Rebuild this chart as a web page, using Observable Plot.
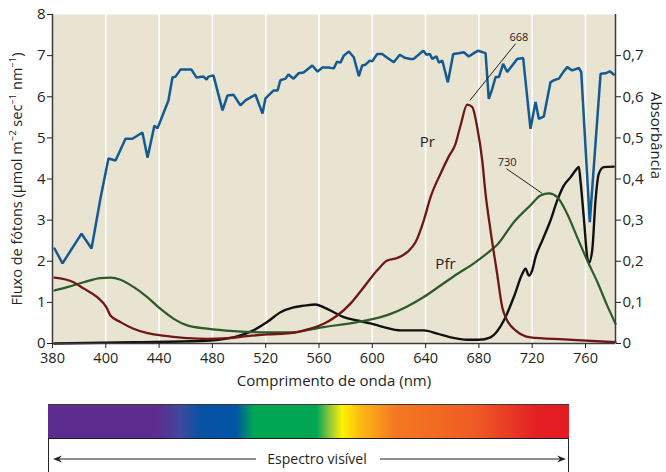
<!DOCTYPE html>
<html><head><meta charset="utf-8">
<script src="https://cdn.jsdelivr.net/npm/d3@7"></script>
<script src="https://cdn.jsdelivr.net/npm/@observablehq/plot@0.6"></script>
<style>
body{margin:0;background:#fff;font-family:"Open Sans",sans-serif;color:#231f20;}
#wrap{position:relative;width:666px;height:472px;overflow:hidden;}
#bar{position:absolute;left:48px;top:404px;width:521px;height:33px;border-top:1px solid #3a3a3a;border-bottom:1.5px solid #1a1a2a;
background:linear-gradient(to right,#5c2d8e 0%,#5c2d8e 21%,#3f4a9e 25.5%,#0a52a3 29%,#0054a6 36%,#00a651 39.5%,#00a651 51.5%,#8dc63f 54%,#fff200 56.5%,#fcb813 60%,#f47920 66.5%,#ef5b25 82%,#e31e24 94%,#e31b23 100%);}
</style></head><body><div id="wrap"><div id="bar"></div></div>
<script>
// Photon flux (left axis, µmol m-2 s-1 nm-1)
const fluxWl = [361.5,367.5,381.8,389.3,396,402,407.3,414.8,420,427.5,431.3,436.5,438.8,447,450,452.3,456,464.3,468,473.3,475.6,477,480.8,487.6,491.3,495.8,501,504.8,512.3,517.6,519.8,525.8,528.9,531,534.9,537,540.9,544.6,548.4,555,558.9,562.6,567,571.1,573.5,576.1,578.6,582.4,586.1,589.9,592.4,594.9,598.1,599.9,603.7,607.4,611.2,616.1,620.6,624.2,628.7,631.1,638.2,640.7,643.2,645,648.2,649.9,652.5,656.7,660.7,664.9,668.7,672.4,676.2,679.5,683.2,685,687.4,690,692.5,695,698.2,701.2,705,708.7,713.2,718.7,722.5,725,728.7,733.7,736.2,740,743.3,746.3,750,755,756.8,763.2,771.3,775,778.2,781.2];
const fluxVal = [2.31,1.95,2.67,2.31,3.53,4.50,4.45,4.98,4.98,5.13,4.52,5.30,5.23,5.91,6.47,6.49,6.66,6.66,6.47,6.49,6.42,6.49,6.52,5.67,6.03,6.05,5.79,5.91,6.05,5.59,5.96,6.15,6.15,6.40,6.44,6.54,6.44,6.57,6.59,6.76,6.61,6.71,6.71,6.69,6.85,6.83,7.00,7.10,6.96,6.50,6.76,6.78,6.88,6.86,7.04,7.04,6.95,6.84,7.02,6.95,6.92,6.92,7.12,7.02,7.04,6.92,6.98,6.83,6.88,6.35,7.04,7.06,7.08,6.98,7.06,7.12,7.08,7.06,5.95,6.19,6.48,6.48,6.80,6.60,6.76,6.92,6.94,5.22,5.87,5.46,5.52,6.35,6.40,6.44,6.60,6.72,6.64,6.70,6.60,2.95,6.56,6.57,6.62,6.54];
// Pr absorbance (right axis)
const prWl = [361.5,375.8,383.3,393.8,400.5,403.5,411,420.8,431.3,446.3,461.3,476.3,491.3,506.3,521.4,538.6,553.6,563.6,573.7,583.6,593.6,603.7,611.2,618.7,626.2,632.4,638.6,643.7,651.2,657.4,662.4,666.2,671.2,675,678.7,682.5,685,688.7,693.7,697.5,701.2,707.5,718.7,743.7,782.5];
const prAbs = [0.160,0.149,0.134,0.112,0.088,0.068,0.052,0.036,0.025,0.018,0.013,0.011,0.013,0.018,0.022,0.025,0.036,0.048,0.068,0.097,0.137,0.178,0.202,0.208,0.222,0.246,0.299,0.356,0.413,0.455,0.485,0.530,0.581,0.575,0.526,0.445,0.364,0.275,0.169,0.088,0.056,0.032,0.015,0.010,0.003];
// Pfr absorbance
const pfrWl = [361.5,371,383.5,396,403.5,411,421,431.1,441.1,451,461.1,476.1,496.1,521.1,538.6,563.6,588.7,601.1,613.7,626.2,638.6,651.2,663.7,676.2,688.7,693.7,706.2,718.7,726.2,732.5,738.8,746.3,753.8,761.3,768.8,776.3,782.5];
const pfrAbs = [0.129,0.137,0.149,0.159,0.160,0.155,0.137,0.113,0.084,0.060,0.044,0.036,0.030,0.027,0.027,0.040,0.052,0.060,0.072,0.090,0.113,0.141,0.169,0.195,0.226,0.240,0.295,0.336,0.360,0.365,0.356,0.315,0.258,0.202,0.150,0.092,0.048];
// Black curve (absorbance)
const blkWl = [361.5,420.8,471.1,495.8,510.8,521.1,531.1,540.9,548.6,557.4,563.6,571.1,578.6,588.7,598.6,608.6,621.2,638.6,648.7,658.7,671.2,680,688.7,698.7,706.2,712.5,715,717.5,720,722.5,727.5,733.7,738.8,743.7,748.7,752.5,755,756.2,758.7,761.3,762.5,765,767.5,770,773.7,781.2];
const blkAbs = [0.000,0.003,0.006,0.015,0.032,0.052,0.076,0.088,0.092,0.095,0.088,0.076,0.064,0.056,0.049,0.040,0.032,0.032,0.024,0.015,0.009,0.009,0.015,0.056,0.113,0.169,0.182,0.165,0.178,0.210,0.250,0.299,0.348,0.384,0.404,0.421,0.429,0.396,0.307,0.210,0.196,0.226,0.348,0.413,0.429,0.430];

const xTicks = [360,400,440,480,520,560,600,640,680,720,760];
const xTickLabels = ["380","400","440","480","520","560","600","640","680","720","760"];
const yTicks = [0,1,2,3,4,5,6,7,8];
const absTicks = [0,0.1,0.2,0.3,0.4,0.5,0.6,0.7];
const absTickLabels = ["0","0,1","0,2","0,3","0,4","0,5","0,6","0,7"];
const peakLabels = ["668","730"];
const peakText = [[710,0.743],[701.2,0.441]];
const peakLine = [[707.5,0.729,673.2,0.591],[700.7,0.425,727.5,0.365]];
const seriesNames = ["Pr","Pfr"];
const seriesNamePos = [[641.2,0.489],[654.9,0.192]];

const ABS = 10; // 0,1 absorbance == 1 flux unit on the shared scale
const flux = fluxWl.map((w,i)=>({w, v: fluxVal[i]}));
const toRows = (wl, a) => wl.map((w,i)=>({w, v: a[i]*ABS}));
const pr = toRows(prWl, prAbs), pfr = toRows(pfrWl, pfrAbs), blk = toRows(blkWl, blkAbs);
const xLab = new Map(xTicks.map((t,i)=>[t, xTickLabels[i]]));
const rightTicks = absTicks.map(a => Math.round(a*ABS*100)/100);
const rightLab = new Map(rightTicks.map((t,i)=>[t, absTickLabels[i]]));
const peaks = peakLabels.map((t,i)=>({t, w: peakText[i][0], v: peakText[i][1]*ABS,
  x1: peakLine[i][0], y1: peakLine[i][1]*ABS, x2: peakLine[i][2], y2: peakLine[i][3]*ABS}));
const names = seriesNames.map((t,i)=>({t, w: seriesNamePos[i][0], v: seriesNamePos[i][1]*ABS}));

const ink = "#231f20";
const plot = Plot.plot({
  width: 666, height: 392,
  marginLeft: 52, marginRight: 51, marginTop: 14, marginBottom: 49,
  style: {fontFamily: "'Open Sans', sans-serif", fontSize: "14px", color: ink, background: "transparent", overflow: "visible"},
  x: {domain: [360, 782.5]},
  y: {domain: [0, 8]},
  marks: [
    Plot.frame({fill: "#e9e3d2", stroke: null}),
    Plot.ruleX(xTicks.slice(1), {stroke: "#ffffff", strokeWidth: 1.6}),
    Plot.line(blk, {x: "w", y: "v", stroke: "#111", strokeWidth: 2.4, curve: "monotone-x"}),
    Plot.line(pfr, {x: "w", y: "v", stroke: "#2c5a28", strokeWidth: 2.2, curve: "monotone-x"}),
    Plot.line(pr, {x: "w", y: "v", stroke: "#6e1717", strokeWidth: 2.3, curve: "monotone-x"}),
    Plot.line(flux, {x: "w", y: "v", stroke: "#135a93", strokeWidth: 2.5, strokeLinejoin: "miter"}),
    Plot.link(peaks, {x1: "x1", y1: "y1", x2: "x2", y2: "y2", stroke: ink, strokeWidth: 1}),
    Plot.text(peaks, {x: "w", y: "v", text: "t", fontSize: 11, fill: ink}),
    Plot.text(names, {x: "w", y: "v", text: "t", fontSize: 15, fill: ink}),
    Plot.ruleX([360, 782.5], {stroke: "#3c3c3c", strokeWidth: 1.5}),
    Plot.ruleY([0], {stroke: "#3c3c3c", strokeWidth: 1.5}),
    Plot.axisX({ticks: xTicks, tickFormat: d => xLab.get(d), tickSize: 5, tickPadding: 4, label: null, fontSize: 14.5}),
    Plot.axisY({ticks: yTicks, tickSize: 5, tickPadding: 2, label: null, fontSize: 15}),
    Plot.axisY({anchor: "right", ticks: rightTicks, tickFormat: d => rightLab.get(d), tickSize: 5, tickPadding: 2, label: null, fontSize: 15}),
    Plot.text(["Comprimento de onda (nm)"], {frameAnchor: "bottom", dy: 42, fontSize: 15, fill: ink}),
    Plot.text(["Absorbância"], {frameAnchor: "right", dx: 40, dy: 0, rotate: 90, fontSize: 15, fill: ink})
  ]
});
const wrap = document.getElementById("wrap");
plot.style.position = "absolute"; plot.style.left = "0px"; plot.style.top = "0px";
wrap.insertBefore(plot, wrap.firstChild);

// left axis title with real superscripts
const ylab = d3.select(plot).append("text")
  .attr("transform", "translate(22,179) rotate(-90)")
  .attr("text-anchor", "middle")
  .attr("font-family", "'Open Sans', sans-serif").attr("font-size", 14.5).attr("fill", ink);
const parts = [["Fluxo de fótons (µmol m",0],["−2",1],[" sec",0],["−1",1],[" nm",0],["−1",1],[")",0]];
parts.forEach(([t, sup], i) => {
  const ts = ylab.append("tspan").text(t);
  if (sup) ts.attr("font-size", 9.5).attr("dy", -6);
  else ts.attr("dy", i > 0 && parts[i-1][1] === 1 ? 6 : 0);
});

// visible spectrum legend below the chart
const u = d3.select(wrap).append("svg").attr("width",666).attr("height",33)
  .style("position","absolute").style("left","0px").style("top","439px");
u.append("line").attr("x1",48.5).attr("x2",48.5).attr("y1",0).attr("y2",33).attr("stroke","#222");
u.append("line").attr("x1",568.5).attr("x2",568.5).attr("y1",0).attr("y2",33).attr("stroke","#222");
u.append("line").attr("x1",56).attr("x2",256).attr("y1",20).attr("y2",20).attr("stroke","#222").attr("stroke-width",1.2);
u.append("line").attr("x1",380).attr("x2",562).attr("y1",20).attr("y2",20).attr("stroke","#222").attr("stroke-width",1.2);
u.append("path").attr("d","M53,20 L62,16.5 L59,20 L62,23.5 Z").attr("fill","#222");
u.append("path").attr("d","M566,20 L557,16.5 L560,20 L557,23.5 Z").attr("fill","#222");
u.append("text").attr("x",317).attr("y",20).attr("dy","0.35em").attr("text-anchor","middle")
  .attr("font-family","'Open Sans', sans-serif").attr("font-size",14).attr("fill",ink).text("Espectro visível");
</script></body></html>
